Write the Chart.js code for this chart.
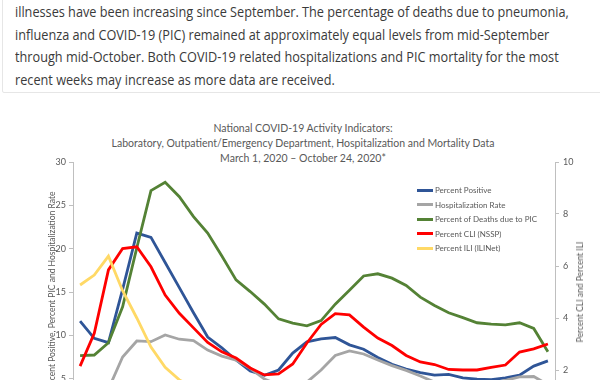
<!DOCTYPE html>
<html><head><meta charset="utf-8">
<script src="https://cdn.jsdelivr.net/npm/chart.js@4.4.0/dist/chart.umd.min.js"></script>
<style>
html,body{margin:0;padding:0;width:600px;height:380px;overflow:hidden;background:#fff;}
#card{position:absolute;left:2px;top:-20px;width:640px;height:111px;border:1px solid #e6e6e6;border-radius:2px;}
#para{position:absolute;left:15px;top:1px;font-family:'Open Sans';font-size:14px;line-height:22.5px;color:#3a3a3a;white-space:nowrap;transform:scaleX(0.907);transform-origin:0 0;}
#ctitle{position:absolute;left:3px;width:600px;top:120.5px;text-align:center;font-family:Lato;font-size:10.5px;line-height:15px;color:#595959;}
#wrap{position:absolute;left:0;top:100px;width:600px;height:340px;}
#legend{position:absolute;left:417px;top:183px;font-family:Lato;font-size:8px;color:#595959;}
#legend .it{height:14.5px;display:flex;align-items:center;white-space:nowrap;}
#legend .sw{width:16px;height:3px;margin-right:2px;}
#rtitle{position:absolute;left:580px;top:292px;transform:translate(-50%,-50%) rotate(-90deg);font-family:Lato;font-size:8.5px;color:#595959;white-space:nowrap;}
</style></head>
<body>
<div id="card"></div>
<div id="para">illnesses have been increasing since September. The percentage of deaths due to pneumonia,<br>influenza and COVID-19 (PIC) remained at approximately equal levels from mid-September<br>through mid-October. Both COVID-19 related hospitalizations and PIC mortality for the most<br>recent weeks may increase as more data are received.</div>
<div id="ctitle">National COVID-19 Activity Indicators:<br>Laboratory, Outpatient/Emergency Department, Hospitalization and Mortality Data<br>March 1, 2020 – October 24, 2020*</div>
<div id="wrap"><canvas id="c"></canvas></div>
<div id="legend"></div>
<div id="rtitle">Percent CLI and Percent ILI</div>
<script>
// MMWR weeks 10..43 (March 1 – October 24, 2020)
const weeks = [10,11,12,13,14,15,16,17,18,19,20,21,22,23,24,25,26,27,28,29,30,31,32,33,34,35,36,37,38,39,40,41,42,43];
const seriesNames = ["Percent Positive","Hospitalization Rate","Percent of Deaths due to PIC","Percent CLI (NSSP)","Percent ILI (ILINet)"];
const percentPositive = [11.65,9.65,9.15,15.3,21.8,21.3,18.4,15.5,12.6,9.8,8.55,7.15,5.9,5.4,6.0,7.95,9.25,9.6,9.75,8.9,8.4,7.45,6.65,6.1,5.7,5.4,5.5,5.1,4.95,4.9,5.1,5.4,6.45,7.05];
const hospitalizationRate = [0.2,1.0,3.8,7.5,9.35,9.27,10.04,9.55,9.4,8.3,7.6,7.15,6.2,4.95,4.3,4.2,4.6,6.0,7.67,8.2,7.85,7.15,6.5,5.95,5.3,4.6,4.3,4.2,4.2,4.4,4.8,5.2,5.25,4.3];
const percentDeathsPIC = [7.65,7.73,9.15,13.3,20.1,26.7,27.65,26.0,23.7,21.8,19.15,16.4,15.05,13.6,11.9,11.4,11.1,11.7,13.6,15.2,16.85,17.1,16.6,15.75,14.4,13.45,12.6,12.05,11.45,11.3,11.2,11.45,10.8,8.1];
const percentCLI = [2.15,3.41,5.85,6.67,6.74,5.97,4.88,4.18,3.62,3.06,2.70,2.46,2.08,1.81,1.85,2.23,3.04,3.75,4.17,4.12,3.65,3.23,2.94,2.56,2.31,2.21,2.02,2.0,2.0,2.1,2.19,2.69,2.81,3.0];
const percentILI = [5.27,5.65,6.38,5.05,4.0,2.88,2.1,1.62,1.35,1.2,1.1,1.0,0.95,0.9,0.9,0.95,1.0,1.05,1.05,1.05,1.0,0.95,0.95,0.95,0.95,1.0,1.05,1.1,1.15,1.2,1.25,1.3,1.35,1.4];
const leftTicks = [0,5,10,15,20,25,30];
const rightTicks = [0,2,4,6,8,10];

const colors = ['#2f5597','#a5a5a5','#548235','#ff0000','#ffd966'];
const values = [percentPositive,hospitalizationRate,percentDeathsPIC,percentCLI,percentILI];
const axes = ['y','y','y','y1','y1'];

const datasets = values.map((v,i)=>({
  label: seriesNames[i], data: v, borderColor: colors[i], backgroundColor: colors[i],
  borderWidth: 2.8, pointRadius: 0, tension: 0, fill: false, yAxisID: axes[i], order: 5-i
}));

const lg = document.getElementById('legend');
seriesNames.forEach((n,i)=>{
  const d=document.createElement('div'); d.className='it';
  d.innerHTML='<span class="sw" style="background:'+colors[i]+'"></span><span>'+n+'</span>';
  lg.appendChild(d);
});

const tickFont = {family:'Lato', size:9};
new Chart(document.getElementById('c'), {
  type:'line',
  data:{labels:weeks, datasets},
  options:{
    responsive:true, maintainAspectRatio:false, animation:false,
    layout:{padding:{top:62,bottom:18,left:0,right:0}},
    plugins:{legend:{display:false}, tooltip:{enabled:false}, title:{display:false}},
    scales:{
      x:{type:'category', offset:true, display:false},
      y:{position:'left', min:0, max:30,
        afterBuildTicks:(s)=>{s.ticks=leftTicks.map(v=>({value:v}));},
        afterFit:(s)=>{s.width=73;},
        ticks:{font:tickFont, color:'#595959', padding:3},
        grid:{display:true, drawOnChartArea:false, drawTicks:true, tickLength:4, color:'#bfbfbf'},
        border:{display:true, color:'#bfbfbf'},
        title:{display:true, text:'Percent Positive, Percent PIC and Hospitalization Rate', font:{family:'Lato', size:8.5}, color:'#595959', padding:{top:47,bottom:0}}
      },
      y1:{position:'right', min:0, max:10,
        afterBuildTicks:(s)=>{s.ticks=rightTicks.map(v=>({value:v}));},
        afterFit:(s)=>{s.width=45;},
        ticks:{font:tickFont, color:'#595959', padding:4},
        grid:{display:true, drawOnChartArea:false, drawTicks:true, tickLength:4, color:'#bfbfbf'},
        border:{display:true, color:'#bfbfbf'}
      }
    }
  }
});
</script>
</body></html>
